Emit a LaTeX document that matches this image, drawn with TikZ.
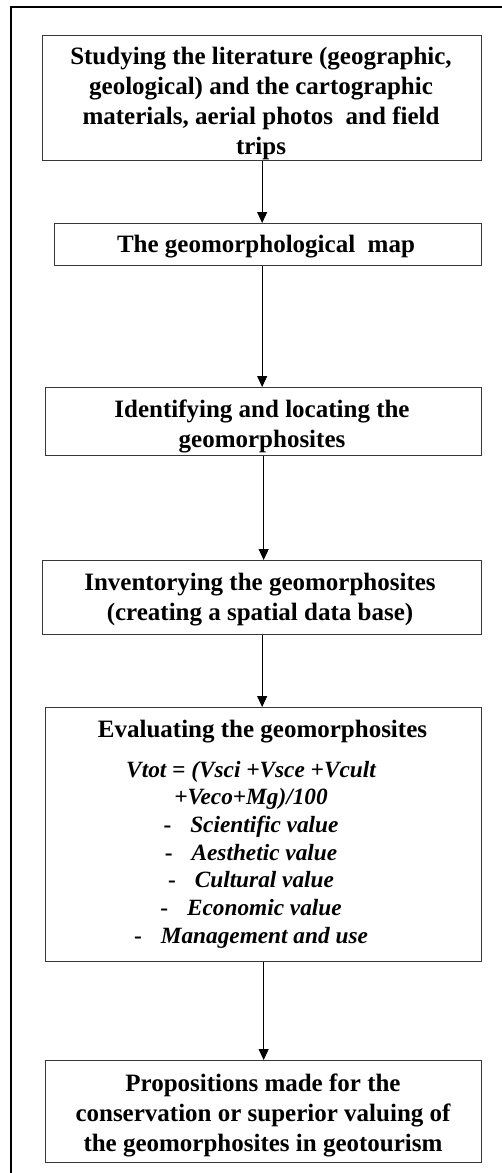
\documentclass[tikz,border=0pt]{standalone}
\usepackage{fontspec}
\setmainfont{Liberation Serif}
\usetikzlibrary{arrows.meta}
\definecolor{boxgray}{gray}{0.22}
\newcommand{\dsh}{{\upshape -}\hspace{19pt}}
\begin{document}
\begin{tikzpicture}[x=1pt,y=-1pt,
  box/.style={draw=boxgray, line width=1.3pt, inner sep=0pt, anchor=north west},
  txt/.style={align=center, font=\fontsize{25}{30}\selectfont\bfseries, inner sep=0pt},
  itx/.style={align=center, font=\fontsize{23.3}{27.7}\selectfont\bfseries\itshape, inner sep=0pt},
  arr/.style={line width=1pt, -{Triangle[width=10pt,length=11pt]}},
  frame/.style={line width=2pt}]
\useasboundingbox (0,0) rectangle (502,1173);
% outer frame (cropped)
\coordinate (fr) at (502,7);
\coordinate (fc) at (11,7);
\coordinate (fb) at (11,1173);
\draw[frame] (fr) -- (fc) -- (fb);
% boxes
\node[box, minimum width=439pt, minimum height=125pt] (b1) at (42,35) {};
\node[box, minimum width=427pt, minimum height=42pt]  (b2) at (54,223) {};
\node[box, minimum width=436pt, minimum height=68pt]  (b3) at (45,387) {};
\node[box, minimum width=439pt, minimum height=74pt]  (b4) at (42,560) {};
\node[box, minimum width=436pt, minimum height=254pt] (b5) at (45,707) {};
\node[box, minimum width=436pt, minimum height=102pt] (b6) at (45,1060) {};
% texts
\node[txt] (t1) at (261,103) {Studying the literature (geographic,\\geological) and the cartographic\\materials, aerial photos \ and field\\trips};
\node[txt, anchor=base] (t2) at (266,252) {The geomorphological \ map};
\node[txt] (t3) at (262,426.5) {Identifying and locating the\\geomorphosites};
\node[txt] (t4) at (260,600) {Inventorying the geomorphosites\\(creating a spatial data base)};
\node[txt, anchor=base] (t5) at (262.5,737) {Evaluating the geomorphosites};
\node[itx] (f5) at (251,854.5) {Vtot = (Vsci +Vsce +Vcult\\+Veco+Mg)/100\\\dsh Scientific value\\\dsh Aesthetic value\\\dsh Cultural value\\\dsh Economic value\\\dsh Management and use};
\node[txt] (t6) at (263,1115) {Propositions made for the\\conservation or superior valuing of\\the geomorphosites in geotourism};
% connectors
\draw[arr] (b1.south) -- (b1.south |- b2.north);
\draw[arr] (b2.south -| b1.south) -- (b3.north -| b1.south);
\draw[arr] (b3.south) -- (b3.south |- b4.north);
\draw[arr] (b4.south) -- (b4.south |- b5.north);
\draw[arr] (b5.south) -- (b5.south |- b6.north);
\end{tikzpicture}
\end{document}
